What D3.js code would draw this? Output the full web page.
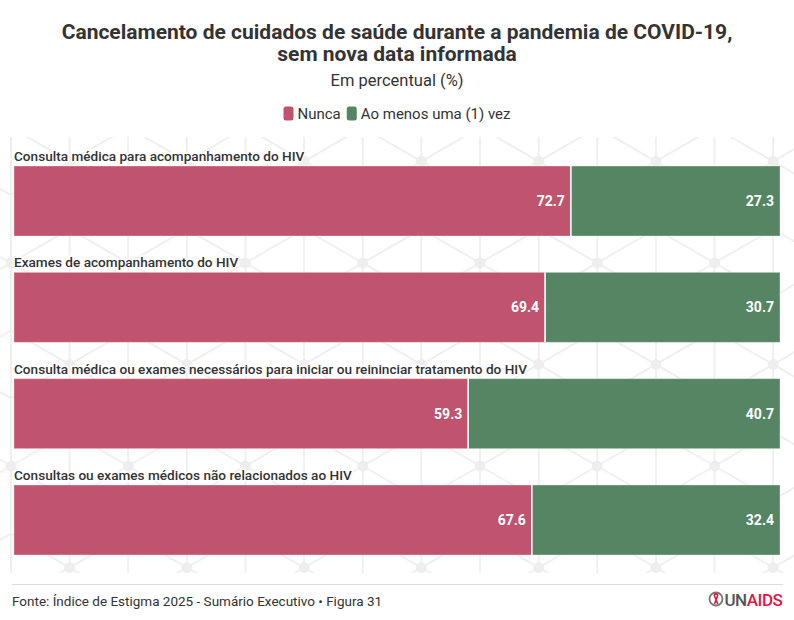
<!DOCTYPE html>
<html>
<head>
<meta charset="utf-8">
<script src="https://cdn.jsdelivr.net/npm/d3@7"></script>
<style>
  body { margin: 0; background: #fff; }
  text { font-family: Roboto, "Noto Sans", sans-serif; }
</style>
</head>
<body>
<div id="chart"></div>
<script>
// chart data
const categories = [
  "Consulta médica para acompanhamento do HIV",
  "Exames de acompanhamento do HIV",
  "Consulta médica ou exames necessários para iniciar ou reininciar tratamento do HIV",
  "Consultas ou exames médicos não relacionados ao HIV"
];
const nunca = [72.7, 69.4, 59.3, 67.6];
const aoMenos = [27.3, 30.7, 40.7, 32.4];
const seriesNames = ["Nunca", "Ao menos uma (1) vez"];
const seriesColors = ["#c0536d", "#558562"];

const titleLines = [
  "Cancelamento de cuidados de saúde durante a pandemia de COVID-19,",
  "sem nova data informada"
];
const subtitle = "Em percentual (%)";
const source = "Fonte: Índice de Estigma 2025 - Sumário Executivo • Figura 31";

const width = 794, height = 620;
const margin = { left: 14, right: 14 };

const svg = d3.select("#chart").append("svg")
  .attr("width", width)
  .attr("height", height);

// faint network pattern in the background
const bg = svg.append("g").attr("clip-path", "url(#bgclip)");
svg.append("defs").append("clipPath").attr("id", "bgclip")
  .append("rect").attr("x", 0).attr("y", 137).attr("width", width).attr("height", 436);

const L = 67.7, hw = L * Math.sqrt(3) / 2;
const cx0 = 480, cy0 = 466;
for (let r = -5; r <= 3; r++) {
  const cy = cy0 + r * 1.5 * L;
  const off = (r % 2 === 0) ? 0 : hw;
  for (let k = -6; k <= 6; k++) {
    const cx = cx0 + off + k * 2 * hw;
    const spokes = [[0, -L], [0, L], [hw, -L / 2], [hw, L / 2], [-hw, -L / 2], [-hw, L / 2]];
    spokes.forEach(s => bg.append("line")
      .attr("x1", cx).attr("y1", cy).attr("x2", cx + s[0]).attr("y2", cy + s[1])
      .attr("stroke", "#f0f0f0").attr("stroke-width", 2));
    bg.append("line")
      .attr("x1", cx + hw).attr("x2", cx + hw)
      .attr("y1", cy - L / 2).attr("y2", cy + L / 2)
      .attr("stroke", "#f0f0f0").attr("stroke-width", 2);
    bg.append("circle").attr("cx", cx).attr("cy", cy).attr("r", 5.5).attr("fill", "#eeeeee");
  }
}

// title + subtitle
svg.append("g").selectAll("text")
  .data(titleLines)
  .join("text")
  .attr("x", width / 2)
  .attr("y", (d, i) => 39 + i * 22)
  .attr("text-anchor", "middle")
  .attr("fill", "#333")
  .style("font-size", "21px")
  .style("font-weight", 700)
  .text(d => d);

svg.append("text")
  .attr("x", width / 2).attr("y", 86)
  .attr("text-anchor", "middle")
  .attr("fill", "#333")
  .style("font-size", "16.5px")
  .text(subtitle);

// legend
const legend = svg.append("g").attr("transform", "translate(0,119)");
const legendItems = legend.selectAll("g")
  .data(seriesNames)
  .join("g");
legendItems.append("rect")
  .attr("y", -12.5).attr("width", 10).attr("height", 14).attr("rx", 2.5)
  .attr("fill", (d, i) => seriesColors[i]);
legendItems.append("text")
  .attr("x", 14)
  .attr("fill", "#333")
  .style("font-size", "15px")
  .text(d => d);
// centre the legend row
let lx = 0;
const widths = [];
legendItems.each(function () { widths.push(this.getBBox().width); });
const totalW = d3.sum(widths) + 6 * (widths.length - 1);
lx = (width - totalW) / 2;
legendItems.attr("transform", (d, i) => {
  const t = `translate(${lx},0)`;
  lx += widths[i] + 6;
  return t;
});

// bars
const y = d3.scaleBand()
  .domain(categories)
  .range([166, 555])
  .paddingInner(0.3415);

const rows = categories.map((c, i) => ({ cat: c, values: [nunca[i], aoMenos[i]] }));

const row = svg.append("g").selectAll("g")
  .data(rows)
  .join("g");

row.append("text")
  .attr("x", margin.left)
  .attr("y", d => y(d.cat) - 5)
  .attr("fill", "#333")
  .attr("stroke", "#fff").attr("stroke-width", 3).attr("paint-order", "stroke")
  .style("font-size", "13.6px")
  .style("font-weight", 500)
  .text(d => d.cat);

row.each(function (d) {
  const total = d3.sum(d.values);
  const x = d3.scaleLinear().domain([0, total]).range([margin.left, width - margin.right]);
  const g = d3.select(this);
  const segs = [];
  let acc = 0;
  d.values.forEach((v, i) => { segs.push({ v, i, x0: acc, x1: acc + v }); acc += v; });

  g.selectAll("rect.seg")
    .data(segs)
    .join("rect")
    .attr("class", "seg")
    .attr("x", s => x(s.x0))
    .attr("width", s => x(s.x1) - x(s.x0))
    .attr("y", y(d.cat))
    .attr("height", y.bandwidth())
    .attr("fill", s => seriesColors[s.i])
    .attr("stroke", "#fff").attr("stroke-opacity", 0.35).attr("stroke-width", 1);

  g.selectAll("line.sep")
    .data(segs.slice(1))
    .join("line")
    .attr("class", "sep")
    .attr("x1", s => x(s.x0)).attr("x2", s => x(s.x0))
    .attr("y1", y(d.cat)).attr("y2", y(d.cat) + y.bandwidth())
    .attr("stroke", "#fff").attr("stroke-width", 1.5);

  g.selectAll("text.val")
    .data(segs)
    .join("text")
    .attr("class", "val")
    .attr("x", s => x(s.x1) - 6)
    .attr("y", y(d.cat) + y.bandwidth() / 2)
    .attr("dy", "0.35em")
    .attr("text-anchor", "end")
    .attr("fill", "#fff")
    .style("font-size", "14px")
    .style("font-weight", 700)
    .text(s => d3.format(".1f")(s.v));
});

// footer
svg.append("line")
  .attr("x1", 12).attr("x2", 783)
  .attr("y1", 584.5).attr("y2", 584.5)
  .attr("stroke", "#dddddd");

svg.append("text")
  .attr("x", 12).attr("y", 606)
  .attr("fill", "#333")
  .style("font-size", "13.5px")
  .text(source);

// UNAIDS logo
const logo = svg.append("g").attr("transform", "translate(716,599)");
logo.append("circle").attr("r", 6.5).attr("fill", "none").attr("stroke", "#777").attr("stroke-width", 1.8);
logo.append("path").attr("d", "M-1.5,5 L1.5,-3 A1.6,1.6 0 1 0 -1.5,-3 L1.8,5")
  .attr("fill", "none").attr("stroke", "#e2173f").attr("stroke-width", 1.6);
const logoText = logo.append("text")
  .attr("x", 8.5).attr("y", 6.5)
  .style("font-size", "17px")
  .style("font-weight", 500)
  .style("letter-spacing", "-0.5px");
logoText.append("tspan").attr("fill", "#555").text("UN");
logoText.append("tspan").attr("fill", "#e2173f").text("AIDS");
</script>
</body>
</html>
